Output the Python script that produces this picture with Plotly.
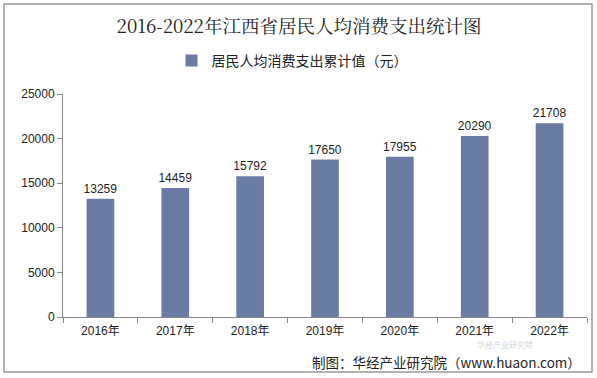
import plotly.graph_objects as go

years = ["2016年", "2017年", "2018年", "2019年", "2020年", "2021年", "2022年"]
values = [13259, 14459, 15792, 17650, 17955, 20290, 21708]
series_name = "居民人均消费支出累计值（元）"
title_text = "2016-2022年江西省居民人均消费支出统计图"
source_text = "制图：华经产业研究院（www.huaon.com）"
y_ticks = [0, 5000, 10000, 15000, 20000, 25000]

W, H = 597, 378
L, R, T, B = 63, 10, 94, 61
pw, ph = W - L - R, H - T - B

def px(x):
    return (x - L) / pw

def py(y):
    return (H - B - y) / ph

fig = go.Figure()
fig.add_trace(go.Bar(
    x=years, y=values, name=series_name,
    marker=dict(color="#6a7ca3", line=dict(width=0)),
    width=0.37,
    text=[str(v) for v in values], textposition="outside", constraintext="none",
    textfont=dict(family="Liberation Sans, Arial", size=12, color="#222"),
    cliponaxis=False,
))

fig.update_layout(
    width=W, height=H,
    margin=dict(l=L, r=R, t=T, b=B, autoexpand=False),
    paper_bgcolor="white", plot_bgcolor="white",
    title=dict(text=title_text, x=299 / W, xanchor="center", xref="container",
               y=1 - 27 / H, yanchor="middle", yref="container",
               font=dict(family="Noto Serif CJK SC, DejaVu Serif, Noto Sans CJK SC", size=18.5, color="#222")),
    showlegend=True,
    legend=dict(orientation="h", xref="container", x=292 / W, xanchor="center",
                yref="container", y=1 - 61 / H, yanchor="middle",
                font=dict(family="Noto Sans CJK SC", size=14, color="#222"),
                bgcolor="rgba(0,0,0,0)"),
    xaxis=dict(showline=True, linecolor="#888", linewidth=1, ticks="outside", ticklen=5,
               tickcolor="#888", tickson="boundaries", ticklabelstandoff=3,
               tickfont=dict(family="Liberation Sans, Noto Sans CJK SC", size=12, color="#222"),
               showgrid=False),
    yaxis=dict(range=[0, 25000], tickvals=y_ticks, ticktext=[str(v) for v in y_ticks],
               showline=True, linecolor="#888", linewidth=1,
               ticks="outside", ticklen=5, tickcolor="#888", showgrid=False,
               tickfont=dict(family="Liberation Sans, Arial", size=12, color="#222"),
               zeroline=False),
    font=dict(family="Noto Sans CJK SC"),
)

# outer border
fig.add_shape(type="rect", xref="paper", yref="paper",
              x0=px(4), x1=px(592), y0=py(372), y1=py(4),
              line=dict(color="#999", width=1.5), fillcolor="rgba(0,0,0,0)", layer="above")

# watermark
fig.add_annotation(text="华经产业研究院", xref="paper", yref="paper", x=px(505), y=py(344),
                   showarrow=False, xanchor="center", yanchor="middle",
                   font=dict(family="Noto Sans CJK SC", size=8, color="rgba(150,150,150,0.45)"))
# source
fig.add_annotation(text=source_text, xref="paper", yref="paper", x=px(583), y=py(362),
                   showarrow=False, xanchor="right", yanchor="middle",
                   font=dict(family="Noto Sans CJK SC", size=13.5, color="#222"))

fig.write_html("out.html", config={"displayModeBar": False},
               post_script="document.body.style.margin='0';")
